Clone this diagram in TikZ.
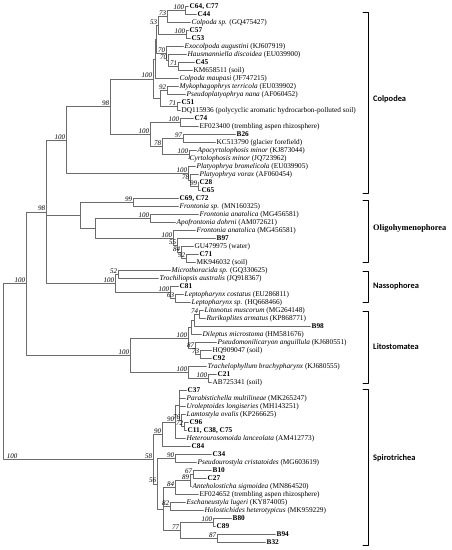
\documentclass[tikz,border=0pt]{standalone}
\usepackage{fontspec}
\setmainfont{Liberation Serif}
\newfontfamily\grpsans{Carlito}
\begin{document}
\begin{tikzpicture}[x=1pt,y=-1pt,line join=round,line cap=round]
  \definecolor{branchgray}{rgb}{0.42,0.42,0.42}
  \tikzset{
    leaf/.style={anchor=west,inner sep=1pt,font=\fontsize{7.3}{8}\selectfont},
    boot/.style={anchor=south east,inner sep=0.6pt,font=\fontsize{7}{8}\selectfont\itshape},
    br/.style={draw=branchgray,line width=0.5pt},
    clade/.style={draw=black,line width=0.9pt},
    grp/.style={anchor=west,inner sep=0pt,font=\fontsize{8.4}{9}\selectfont\bfseries\grpsans}
  }
  \useasboundingbox (0,0) rectangle (451,550);
  % leaves
  \node[leaf] (c64) at (188.5,6.5) {\textbf{C64, C77}};
  \node[leaf] (c44) at (196.5,14.5) {\textbf{C44}};
  \node[leaf] (colpsp) at (190.5,22.5) {\textit{Colpoda sp.} (GQ475427)};
  \node[leaf] (c57) at (188.5,30.5) {\textbf{C57}};
  \node[leaf] (c53) at (190.5,38.5) {\textbf{C53}};
  \node[leaf] (exoc) at (183.5,46.5) {\textit{Exocolpoda augustini} (KJ607919)};
  \node[leaf] (haus) at (186.5,54.5) {\textit{Hausmanniella discoidea} (EU039900)};
  \node[leaf] (c45) at (194.5,62.5) {\textbf{C45}};
  \node[leaf] (km) at (192.5,70.5) {KM658511 (soil)};
  \node[leaf] (maup) at (178.5,78.5) {\textit{Colpoda maupasi} (JF747215)};
  \node[leaf] (myko) at (178.5,86.5) {\textit{Mykophagophrys terricola} (EU039902)};
  \node[leaf] (pnana) at (185.5,94.5) {\textit{Pseudoplatyophrya nana} (AF060452)};
  \node[leaf] (c51) at (180.5,102.5) {\textbf{C51}};
  \node[leaf] (dq) at (180.5,110.5) {DQ115936 (polycyclic aromatic hydrocarbon-polluted soil)};
  \node[leaf] (c74) at (193.5,118.5) {\textbf{C74}};
  \node[leaf] (ef23) at (198.5,126.5) {EF023400 (trembling aspen rhizosphere)};
  \node[leaf] (b26) at (235.5,134.5) {\textbf{B26}};
  \node[leaf] (kc) at (215.5,142.5) {KC513790 (glacier forefield)};
  \node[leaf] (apoc) at (196.5,150.5) {\textit{Apocyrtolophosis minor} (KJ873044)};
  \node[leaf] (cyrt) at (188.5,158.5) {\textit{Cyrtolophosis minor} (JQ723962)};
  \node[leaf] (pbrom) at (195.5,166.5) {\textit{Platyophrya bromelicola} (EU039905)};
  \node[leaf] (pvor) at (198.5,174.5) {\textit{Platyophrya vorax} (AF060454)};
  \node[leaf] (c28) at (198.5,182.5) {\textbf{C28}};
  \node[leaf] (c65) at (200.5,190.5) {\textbf{C65}};
  \node[leaf] (c69) at (178.5,198.5) {\textbf{C69, C72}};
  \node[leaf] (frsp) at (178.5,206.5) {\textit{Frontonia sp.} (MN160325)};
  \node[leaf] (fran) at (198.5,214.5) {\textit{Frontonia anatolica} (MG456581)};
  \node[leaf] (apof) at (175.5,222.5) {\textit{Apofrontonia dohrni} (AM072621)};
  \node[leaf] (franb) at (195.5,230.5) {\textit{Frontonia anatolica} (MG456581)};
  \node[leaf] (b97) at (215.5,238.5) {\textbf{B97}};
  \node[leaf] (gu) at (193.5,246.5) {GU479975 (water)};
  \node[leaf] (c71) at (198.5,254.5) {\textbf{C71}};
  \node[leaf] (mk) at (195.5,262.5) {MK946032 (soil)};
  \node[leaf] (micr) at (170.5,270.5) {\textit{Microthoracida sp.} (GQ330625)};
  \node[leaf] (troc) at (158.5,278.5) {\textit{Trochiliopsis australis} (JQ918367)};
  \node[leaf] (c81) at (178.5,286.5) {\textbf{C81}};
  \node[leaf] (lcos) at (183.5,294.5) {\textit{Leptopharynx costatus} (EU286811)};
  \node[leaf] (lsp) at (190.5,302.5) {\textit{Leptopharynx sp.} (HQ668466)};
  \node[leaf] (lito) at (203.5,310.5) {\textit{Litonotus muscorum} (MG264148)};
  \node[leaf] (ruri) at (205.5,318.5) {\textit{Rurikoplites armatus} (KP868771)};
  \node[leaf] (b98) at (310.5,326.5) {\textbf{B98}};
  \node[leaf] (dile) at (201.5,334.5) {\textit{Dileptus microstoma} (HM581676)};
  \node[leaf] (pseu) at (216.5,342.5) {\textit{Pseudomonilicaryon anguillula} (KJ680551)};
  \node[leaf] (hq) at (211.5,350.5) {HQ909047 (soil)};
  \node[leaf] (c92) at (211.5,358.5) {\textbf{C92}};
  \node[leaf] (trac) at (206.5,366.5) {\textit{Trachelophyllum brachypharynx} (KJ680555)};
  \node[leaf] (c21) at (216.5,374.5) {\textbf{C21}};
  \node[leaf] (ab) at (211.5,382.5) {AB725341 (soil)};
  \node[leaf] (c37) at (186.5,390.5) {\textbf{C37}};
  \node[leaf] (para) at (185.5,398.5) {\textit{Parabistichella multilineae} (MK265247)};
  \node[leaf] (urol) at (185.5,406.5) {\textit{Uroleptoides longiseries} (MH143251)};
  \node[leaf] (lamt) at (185.5,414.5) {\textit{Lamtostyla ovalis} (KP266625)};
  \node[leaf] (c96) at (188.5,422.5) {\textbf{C96}};
  \node[leaf] (c11) at (186.5,430.5) {\textbf{C11, C38, C75}};
  \node[leaf] (hete) at (185.5,438.5) {\textit{Heterourosomoida lanceolata} (AM412773)};
  \node[leaf] (c84) at (190.5,446.5) {\textbf{C84}};
  \node[leaf] (c34) at (211.5,454.5) {\textbf{C34}};
  \node[leaf] (pcri) at (196.5,462.5) {\textit{Pseudourostyla cristatoides} (MG603619)};
  \node[leaf] (b10) at (211.5,470.5) {\textbf{B10}};
  \node[leaf] (c27) at (206.5,478.5) {\textbf{C27}};
  \node[leaf] (ante) at (191.5,486.5) {\textit{Anteholosticha sigmoidea} (MN864520)};
  \node[leaf] (ef24) at (198.5,494.5) {EF024652 (trembling aspen rhizosphere)};
  \node[leaf] (esch) at (185.5,502.5) {\textit{Eschaneustyla lugeri} (KY874005)};
  \node[leaf] (holo) at (203.5,510.5) {\textit{Holostichides heterotypicus} (MK959229)};
  \node[leaf] (b80) at (231.5,518.5) {\textbf{B80}};
  \node[leaf] (c89) at (215.5,526.5) {\textbf{C89}};
  \node[leaf] (b94) at (275.5,534.5) {\textbf{B94}};
  \node[leaf] (b32) at (265.5,542.5) {\textbf{B32}};
  % internal nodes
  \path
  (185,10.5) coordinate (n1)
  (167,16.5) coordinate (n2)
  (186,34.5) coordinate (n3)
  (158,25.5) coordinate (n4)
  (178,66.5) coordinate (n5)
  (168,60.5) coordinate (n6)
  (166,53.5) coordinate (n7)
  (156.5,39.5) coordinate (n8)
  (155,59) coordinate (n8b)
  (167,90.5) coordinate (n9)
  (177,106.5) coordinate (n10)
  (160,98.5) coordinate (n11)
  (153,78.75) coordinate (n12)
  (180,122.5) coordinate (n13)
  (183,138.5) coordinate (n14)
  (189,154.5) coordinate (n15)
  (162,146.5) coordinate (n16)
  (150,134.5) coordinate (n17)
  (110,106.6) coordinate (n18)
  (198,186.5) coordinate (n19)
  (190,180.5) coordinate (n20)
  (188,173.5) coordinate (n21)
  (66,140) coordinate (colp)
  (133,202.5) coordinate (o1)
  (150,218.5) coordinate (o2)
  (186,258.5) coordinate (o5)
  (181,252.5) coordinate (o4)
  (177,245.5) coordinate (o3)
  (173,238) coordinate (o6)
  (95,228.25) coordinate (o7)
  (80,215.4) coordinate (olig)
  (118,274.5) coordinate (s1)
  (175,298.5) coordinate (s2)
  (170,292.5) coordinate (s3)
  (115,283.5) coordinate (nass)
  (46,211.75) coordinate (co)
  (199,314.5) coordinate (l1)
  (194,320.5) coordinate (l2)
  (191,327.5) coordinate (l2b)
  (200,354.5) coordinate (l3)
  (195,348.5) coordinate (l4)
  (188,338) coordinate (l6)
  (208,378.5) coordinate (l7)
  (188,372.5) coordinate (l8)
  (130,355.25) coordinate (litost)
  (26,283.5) coordinate (big)
  (184,426.5) coordinate (p1)
  (181,420.5) coordinate (p2)
  (179,405.5) coordinate (p0)
  (175,422) coordinate (p3)
  (162,434.25) coordinate (p4)
  (175,458.5) coordinate (p5)
  (193,474.5) coordinate (p6)
  (190,480.5) coordinate (p7)
  (175,487.5) coordinate (p8)
  (170,506.5) coordinate (p9)
  (213,522.5) coordinate (p10)
  (217,538.5) coordinate (p11)
  (180,530.5) coordinate (p12)
  (163,509) coordinate (p13)
  (157,483.75) coordinate (p14)
  (153,459) coordinate (spir)
  (3,371) coordinate (root)
  ;
  % branches
  \draw[br] (n1) |- (c64.west) (n1) |- (c44.west);
  \draw[br] (n2) |- (n1) (n2) |- (colpsp.west);
  \draw[br] (n3) |- (c57.west) (n3) |- (c53.west);
  \draw[br] (n4) |- (n2) (n4) |- (n3);
  \draw[br] (n5) |- (c45.west) (n5) |- (km.west);
  \draw[br] (n6) |- (haus.west) (n6) |- (n5);
  \draw[br] (n7) |- (exoc.west) (n7) |- (n6);
  \draw[br] (n8) |- (n4) (n8) |- (n7);
  \draw[br] (n8b) |- (n8) (n8b) |- (maup.west);
  \draw[br] (n9) |- (myko.west) (n9) |- (pnana.west);
  \draw[br] (n10) |- (c51.west) (n10) |- (dq.west);
  \draw[br] (n11) |- (n9) (n11) |- (n10);
  \draw[br] (n12) |- (n8b) (n12) |- (n11);
  \draw[br] (n13) |- (c74.west) (n13) |- (ef23.west);
  \draw[br] (n14) |- (b26.west) (n14) |- (kc.west);
  \draw[br] (n15) |- (apoc.west) (n15) |- (cyrt.west);
  \draw[br] (n16) |- (n14) (n16) |- (n15);
  \draw[br] (n17) |- (n13) (n17) |- (n16);
  \draw[br] (n18) |- (n12) (n18) |- (n17);
  \draw[br] (n19) |- (c28.west) (n19) |- (c65.west);
  \draw[br] (n20) |- (pvor.west) (n20) |- (n19);
  \draw[br] (n21) |- (pbrom.west) (n21) |- (n20);
  \draw[br] (colp) |- (n18) (colp) |- (n21);
  \draw[br] (o1) |- (c69.west) (o1) |- (frsp.west);
  \draw[br] (o2) |- (fran.west) (o2) |- (apof.west);
  \draw[br] (o5) |- (c71.west) (o5) |- (mk.west);
  \draw[br] (o4) |- (gu.west) (o4) |- (o5);
  \draw[br] (o3) |- (b97.west) (o3) |- (o4);
  \draw[br] (o6) |- (franb.west) (o6) |- (o3);
  \draw[br] (o7) |- (o2) (o7) |- (o6);
  \draw[br] (olig) |- (o1) (olig) |- (o7);
  \draw[br] (s1) |- (micr.west) (s1) |- (troc.west);
  \draw[br] (s2) |- (lcos.west) (s2) |- (lsp.west);
  \draw[br] (s3) |- (c81.west) (s3) |- (s2);
  \draw[br] (nass) |- (s1) (nass) |- (s3);
  \draw[br] (co) |- (colp) (co) |- (olig) (co) |- (nass);
  \draw[br] (l1) |- (lito.west) (l1) |- (ruri.west);
  \draw[br] (l2) |- (l1) (l2) |- (b98.west);
  \draw[br] (l2b) |- (l2) (l2b) |- (dile.west);
  \draw[br] (l3) |- (hq.west) (l3) |- (c92.west);
  \draw[br] (l4) |- (pseu.west) (l4) |- (l3);
  \draw[br] (l6) |- (l2b) (l6) |- (l4);
  \draw[br] (l7) |- (c21.west) (l7) |- (ab.west);
  \draw[br] (l8) |- (trac.west) (l8) |- (l7);
  \draw[br] (litost) |- (l6) (litost) |- (l8);
  \draw[br] (big) |- (co) (big) |- (litost);
  \draw[br] (p1) |- (c96.west) (p1) |- (c11.west);
  \draw[br] (p2) |- (lamt.west) (p2) |- (p1);
  \draw[br] (p0) |- (c37.west) (p0) |- (para.west) (p0) |- (urol.west) (p0) |- (p2);
  \draw[br] (p3) |- (p0) (p3) |- (hete.west);
  \draw[br] (p4) |- (p3) (p4) |- (c84.west);
  \draw[br] (p5) |- (c34.west) (p5) |- (pcri.west);
  \draw[br] (p6) |- (b10.west) (p6) |- (c27.west);
  \draw[br] (p7) |- (p6) (p7) |- (ante.west);
  \draw[br] (p8) |- (p7) (p8) |- (ef24.west);
  \draw[br] (p9) |- (esch.west) (p9) |- (holo.west);
  \draw[br] (p10) |- (b80.west) (p10) |- (c89.west);
  \draw[br] (p11) |- (b94.west) (p11) |- (b32.west);
  \draw[br] (p12) |- (p10) (p12) |- (p11);
  \draw[br] (p13) |- (p8) (p13) |- (p9) (p13) |- (p12);
  \draw[br] (p14) |- (p5) (p14) |- (p13);
  \draw[br] (spir) |- (p4) (spir) |- (p14);
  \draw[br] (root) |- (big) (root) |- (spir);
  % bootstrap values
  \foreach \nd/\v in {n1/100,n2/73,n3/100,n4/53,n5/71,n6/70,n7/70,n9/92,n10/71,
      n12/100,n13/100,n14/97,n15/100,n16/78,n17/100,n18/98,n19/99,n20/78,n21/100,
      colp/100,o1/99,o2/100,o3/55,o4/84,o5/92,o6/100,s1/52,s2/63,s3/100,nass/100,
      co/98,l1/74,l3/73,l4/87,l6/100,l7/100,l8/100,litost/100,big/100,
      p1/72,p2/76,p3/90,p4/90,p5/90,p6/67,p7/89,p8/84,p9/82,p10/100,p11/87,
      p12/77,p14/56,spir/58}
    \node[boot] at (\nd) {\v};
  \node[boot,anchor=south west] at ([xshift=3pt]root |- spir) {100};
  % clade brackets
  \draw[clade] (363,12) -- (368,12) -- (368,193) -- (363,193);
  \draw[clade] (363,200) -- (368,200) -- (368,262) -- (363,262);
  \draw[clade] (363,271) -- (368,271) -- (368,302) -- (363,302);
  \draw[clade] (363,311) -- (368,311) -- (368,383) -- (363,383);
  \draw[clade] (363,389) -- (368,389) -- (368,545) -- (363,545);
  \node[grp] (gcolp) at (373,99) {Colpodea};
  \node[grp,font=\fontsize{8.4}{9}\selectfont\bfseries] (golig) at (373,229) {Oligohymenophorea};
  \node[grp] (gnass) at (373,286) {Nassophorea};
  \node[grp] (glito) at (373,347) {Litostomatea};
  \node[grp] (gspir) at (373,458) {Spirotrichea};
\end{tikzpicture}
\end{document}
